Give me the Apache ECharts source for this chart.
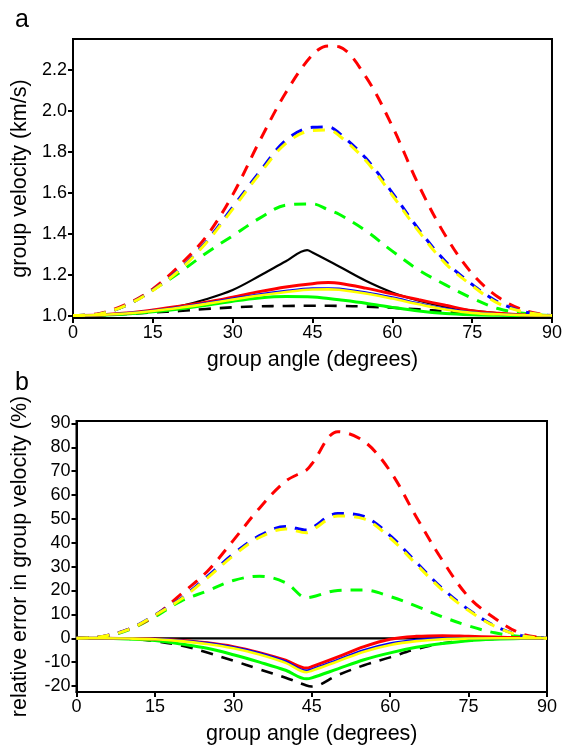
<!DOCTYPE html>
<html>
<head>
<meta charset="utf-8">
<script src="https://cdn.jsdelivr.net/npm/echarts@6/dist/echarts.min.js"></script>
<style>
  html, body { margin: 0; padding: 0; background: #fff; }
  #chart { width: 565px; height: 746px; }
</style>
</head>
<body>
<div id="chart"></div>
<script>
// Group angle samples (degrees). Curves with a cusp near 44 deg use `angles`;
// the smooth velocity curves of panel a use `anglesSmooth`.
const angles       = [0, 5, 10, 15, 20, 25, 30, 35, 40, 44, 45, 50, 55, 60, 65, 70, 75, 80, 85, 90];
const anglesSmooth = [0, 5, 10, 15, 20, 25, 30, 35, 40, 45, 48, 50, 55, 60, 65, 70, 75, 80, 85, 90];

// Panel a: group velocity (km/s)
const blackSolidA  = [1.0, 1.002, 1.008, 1.022, 1.045, 1.08, 1.125, 1.193, 1.265, 1.32, 1.308, 1.24, 1.17, 1.113, 1.073, 1.044, 1.024, 1.011, 1.003, 1.0];
const blackDashA   = [1.0, 1.002, 1.008, 1.015, 1.022, 1.032, 1.04, 1.045, 1.047, 1.048, 1.048, 1.047, 1.044, 1.038, 1.03, 1.02, 1.01, 1.004, 1.001, 1.0];
const redSolidA    = [1.0, 1.003, 1.012, 1.027, 1.045, 1.065, 1.09, 1.117, 1.14, 1.156, 1.161, 1.158, 1.134, 1.106, 1.077, 1.05, 1.024, 1.011, 1.003, 1.0];
const redDashA     = [1.0, 1.01, 1.055, 1.13, 1.245, 1.385, 1.59, 1.85, 2.09, 2.275, 2.318, 2.314, 2.168, 1.925, 1.635, 1.39, 1.205, 1.088, 1.024, 1.0];
const blueSolidA   = [1.0, 1.003, 1.011, 1.024, 1.041, 1.061, 1.082, 1.103, 1.12, 1.132, 1.133, 1.131, 1.113, 1.088, 1.059, 1.033, 1.015, 1.007, 1.002, 1.0];
const blueDashA    = [1.0, 1.008, 1.05, 1.125, 1.225, 1.36, 1.53, 1.70, 1.857, 1.92, 1.922, 1.892, 1.77, 1.60, 1.42, 1.264, 1.152, 1.064, 1.017, 1.0];
const yellowSolidA = [1.0, 1.003, 1.01, 1.022, 1.038, 1.057, 1.078, 1.098, 1.115, 1.127, 1.128, 1.126, 1.108, 1.083, 1.055, 1.03, 1.013, 1.006, 1.002, 1.0];
const yellowDashA  = [1.0, 1.008, 1.05, 1.123, 1.222, 1.355, 1.52, 1.69, 1.842, 1.905, 1.907, 1.88, 1.758, 1.588, 1.41, 1.254, 1.146, 1.058, 1.016, 1.0];
const greenSolidA  = [1.0, 1.002, 1.008, 1.018, 1.032, 1.05, 1.07, 1.086, 1.093, 1.091, 1.083, 1.077, 1.06, 1.04, 1.022, 1.01, 1.004, 1.001, 1.0, 1.0];
const greenDashA   = [1.0, 1.008, 1.05, 1.125, 1.21, 1.305, 1.39, 1.475, 1.54, 1.546, 1.516, 1.495, 1.415, 1.315, 1.222, 1.15, 1.085, 1.033, 1.01, 1.0];

// Panel b: relative error in group velocity (%)
const blackSolidB  = [0, 0, 0, 0, 0, 0, 0, 0, 0, 0, 0, 0, 0, 0, 0, 0, 0, 0, 0, 0];
const blackDashB   = [0, 0, -0.2, -1.2, -3, -6, -9.4, -13, -16.5, -19.8, -20.2, -15.4, -11.3, -8, -4.5, -2.1, -0.9, -0.3, 0, 0];
const redSolidB    = [0, 0, -0.1, -0.3, -0.9, -1.9, -3.5, -6, -9.2, -12.5, -11.9, -7.8, -3.5, -0.4, 0.8, 1.1, 0.8, 0.5, 0.2, 0];
const redDashB     = [0, 0.8, 3.8, 9.5, 18.5, 28, 41, 54.5, 65.8, 70.5, 73, 86.5, 82.5, 70, 50.8, 32.6, 17.3, 8.4, 2, 0];
const blueSolidB   = [0, 0, -0.1, -0.3, -1.0, -2.0, -3.7, -6.2, -9.7, -13.6, -13, -9, -5, -2.2, -0.7, -0.1, 0, 0, 0, 0];
const blueDashB    = [0, 0.8, 3.8, 9.8, 16.7, 25.8, 35.3, 43, 46.8, 45.3, 46.2, 52.3, 51, 43, 31.8, 20.8, 12, 5.2, 1.2, 0];
const yellowSolidB = [0, 0, -0.1, -0.4, -1.2, -2.4, -4.2, -6.8, -10.3, -14.2, -13.6, -9.6, -5.6, -2.8, -1.2, -0.4, -0.1, 0, 0, 0];
const yellowDashB  = [0, 0.8, 3.7, 9.6, 16.4, 25.2, 34.6, 42.2, 45.8, 44.2, 45.2, 51.2, 50, 42, 31, 20.2, 11.6, 5, 1.1, 0];
const greenSolidB  = [0, 0, -0.3, -0.9, -2.4, -4.2, -6.9, -10, -13.4, -17, -16.6, -12.8, -9, -6.1, -3.8, -2.2, -1, -0.4, -0.1, 0];
const greenDashB   = [0, 0.6, 3.5, 9, 15.6, 19.8, 24.2, 26, 23.3, 17, 17.3, 20, 20.2, 17.5, 13.5, 9, 5.2, 2.3, 0.7, 0];

// Tick labels
const xTicks = [0, 15, 30, 45, 60, 75, 90];
const yTicksA = [1.0, 1.2, 1.4, 1.6, 1.8, 2.0, 2.2];
const yTicksB = [-20, -10, 0, 10, 20, 30, 40, 50, 60, 70, 80, 90];

const FONT = "'Liberation Sans', Arial, Helvetica, sans-serif";
const DASH = [12, 9];

function pairs(xs, vals) {
  return xs.map((a, i) => [a, vals[i]]);
}

function curve(idx, xs, vals, color, dashed, width, z) {
  return {
    type: 'line',
    xAxisIndex: idx,
    yAxisIndex: idx,
    data: pairs(xs, vals),
    smooth: 0.35,
    showSymbol: false,
    symbol: 'none',
    silent: true,
    z: z,
    lineStyle: { color: color, width: width, type: dashed ? DASH : 'solid', cap: 'butt' }
  };
}

// drawing order: black, green, red, blue, yellow (yellow on top)
function panelSeries(idx, s) {
  return [
    curve(idx, s.xCusp, s.blackSolid, '#000000', false, 2.2, 2),
    curve(idx, s.x, s.blackDash, '#000000', true, 2.6, 3),
    curve(idx, s.x, s.greenDash, '#00ff00', true, 3, 4),
    curve(idx, s.x, s.greenSolid, '#00ff00', false, 3, 5),
    curve(idx, s.x, s.redDash, '#ff0000', true, 3, 6),
    curve(idx, s.x, s.redSolid, '#ff0000', false, 3, 7),
    curve(idx, s.x, s.blueDash, '#0000ff', true, 3, 8),
    curve(idx, s.x, s.blueSolid, '#0000ff', false, 2.4, 9),
    curve(idx, s.x, s.yellowDash, '#ffff00', true, 3, 10),
    curve(idx, s.x, s.yellowSolid, '#ffff00', false, 2.6, 11)
  ];
}

function xAxisFor(idx) {
  return {
    type: 'value', gridIndex: idx, min: 0, max: 90, interval: 15,
    name: 'group angle (degrees)', nameLocation: 'middle', nameGap: 31,
    nameTextStyle: { fontFamily: FONT, fontSize: 21.5, color: '#000' },
    axisLine: { show: true, onZero: false, lineStyle: { color: '#000', width: 2 } },
    axisTick: { show: true, inside: false, length: 5, lineStyle: { color: '#000', width: 2 } },
    axisLabel: { fontFamily: FONT, fontSize: 18, color: '#000', margin: 6, customValues: xTicks },
    splitLine: { show: false }
  };
}

function yAxisFor(idx, min, max, ticks, name, gap, fmt) {
  return {
    type: 'value', gridIndex: idx, min: min, max: max,
    name: name, nameLocation: 'middle', nameGap: gap, nameRotate: 90,
    nameTextStyle: { fontFamily: FONT, fontSize: 21.5, color: '#000' },
    axisLine: { show: true, onZero: false, lineStyle: { color: '#000', width: 2 } },
    axisTick: { show: true, inside: false, length: 5, lineStyle: { color: '#000', width: 2 }, customValues: ticks },
    axisLabel: { fontFamily: FONT, fontSize: 18, color: '#000', margin: 6, customValues: ticks, formatter: fmt },
    splitLine: { show: false }
  };
}

const chart = echarts.init(document.getElementById('chart'), null, { renderer: 'canvas' });

chart.setOption({
  animation: false,
  backgroundColor: '#ffffff',
  title: [
    { text: 'a', left: 10, top: 3, textStyle: { fontFamily: FONT, fontSize: 25, fontWeight: 'normal', color: '#000' } },
    { text: 'b', left: 10, top: 366, textStyle: { fontFamily: FONT, fontSize: 25, fontWeight: 'normal', color: '#000' } }
  ],
  grid: [
    { left: 73, top: 39, width: 480, height: 279, show: true, borderColor: '#000', borderWidth: 2, backgroundColor: 'transparent' },
    { left: 76.5, top: 421, width: 470.5, height: 272.5, show: true, borderColor: '#000', borderWidth: 2, backgroundColor: 'transparent' }
  ],
  xAxis: [xAxisFor(0), xAxisFor(1)],
  yAxis: [
    yAxisFor(0, 0.988, 2.352, yTicksA, 'group velocity (km/s)', 41, v => v.toFixed(1)),
    yAxisFor(1, -22.5, 91, yTicksB, 'relative error in group velocity (%)', 45, v => String(Math.round(v)))
  ],
  series: [
    ...panelSeries(0, {
      x: anglesSmooth, xCusp: angles,
      blackSolid: blackSolidA, blackDash: blackDashA, redSolid: redSolidA, redDash: redDashA,
      blueSolid: blueSolidA, blueDash: blueDashA, yellowSolid: yellowSolidA, yellowDash: yellowDashA,
      greenSolid: greenSolidA, greenDash: greenDashA
    }),
    ...panelSeries(1, {
      x: angles, xCusp: angles,
      blackSolid: blackSolidB, blackDash: blackDashB, redSolid: redSolidB, redDash: redDashB,
      blueSolid: blueSolidB, blueDash: blueDashB, yellowSolid: yellowSolidB, yellowDash: yellowDashB,
      greenSolid: greenSolidB, greenDash: greenDashB
    })
  ]
});
</script>
</body>
</html>
